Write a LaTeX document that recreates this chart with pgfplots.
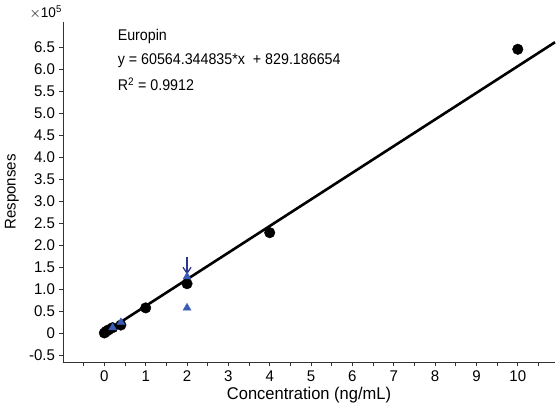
\documentclass[border=0pt]{standalone}
\usepackage{pgfplots}
\pgfplotsset{compat=1.18}
\usetikzlibrary{arrows.meta}
\usepackage{fontspec}
\setmainfont{Liberation Sans}[FakeStretch=0.97]
\newfontfamily\narrowfont{Liberation Sans}[FakeStretch=0.92]
\definecolor{triblue}{HTML}{3A5CB4}
\definecolor{arrowblue}{HTML}{2E3590}
\definecolor{axgray}{HTML}{333333}
\newcommand{\lblfont}{\fontsize{15.5}{15.5}\selectfont}
\newcommand{\eqfont}{\narrowfont\fontsize{15.5}{15.5}\selectfont}

\begin{document}
\begin{tikzpicture}[x=1pt,y=1pt]
\begin{axis}[
  name=ax,
  scale only axis,
  width=492pt, height=340pt,
  xmin=-1, xmax=10.9,
  ymin=-0.66, ymax=7.07,
  axis lines=left,
  axis line style={-, axgray, line width=0.9pt},
  tick style={axgray, line width=0.8pt},
  tick align=outside,
  major tick length=4pt,
  minor tick length=4pt,
  xtick={0,1,2,3,4,5,6,7,8,9,10},
  xticklabels={0,1,2,3,4,5,6,7,8,9,10},
  minor xtick={-0.5,0.5,1.5,2.5,3.5,4.5,5.5,6.5,7.5,8.5,9.5,10.5},
  ytick={-0.5,0,0.5,1,1.5,2,2.5,3,3.5,4,4.5,5,5.5,6,6.5},
  yticklabels={-0.5,0,0.5,1.0,1.5,2.0,2.5,3.0,3.5,4.0,4.5,5.0,5.5,6.0,6.5},
  ticklabel style={font=\lblfont, text=black},
  xticklabel style={yshift=-1pt},
  yticklabel style={xshift=-0.5pt},
  xlabel={Concentration (ng/mL)},
  ylabel={Responses},
  every axis x label/.style={at={([yshift=-33pt]rel axis cs:0.5,0)}, anchor=center, font=\fontsize{17}{17}\selectfont},
  every axis y label/.style={at={([xshift=-51pt]rel axis cs:0,0.5)}, anchor=center, rotate=90, font=\lblfont},
  clip=false,
]
% calibration standards
\addplot[only marks, mark=*, mark size=5.3pt, black] coordinates {
  (0,0.0) (0.05,0.04) (0.1,0.07) (0.2,0.12) (0.4,0.18)
  (1,0.57) (2,1.12) (4,2.28) (10,6.45)
};
% linear fit
\addplot[black, line width=2.6pt] coordinates {(0,0.0083) (10.9,6.6098)};
% QC samples
\addplot[only marks, mark=triangle*, mark size=4.6pt, triblue] coordinates {
  (0.2,0.12) (0.4,0.24) (2,1.28) (2,0.57)
};
\draw[arrowblue, line width=1.3pt, -{Straight Barb[length=6pt,width=8pt]}]
  (axis cs:2,1.73) -- (axis cs:2,1.33);
\node[anchor=west, font=\eqfont, inner sep=0pt] at (axis cs:0.32,6.73) {Europin};
\node[anchor=west, font=\eqfont, inner sep=0pt] at (axis cs:0.32,6.2) {y = 60564.344835*x\ \ + 829.186654};
\node[anchor=west, font=\eqfont, inner sep=0pt] at (axis cs:0.32,5.66) {R\textsuperscript{2} = 0.9912};
\node[anchor=east, font=\fontsize{14}{14}\selectfont, inner sep=0pt] at ([xshift=-1pt,yshift=10pt]rel axis cs:0,1) {$\times$10\textsuperscript{5}};
\end{axis}
\pgfresetboundingbox
\path ([xshift=-63pt,yshift=-48pt]ax.south west) rectangle ([xshift=2pt,yshift=22pt]ax.north east);
\end{tikzpicture}
\end{document}
